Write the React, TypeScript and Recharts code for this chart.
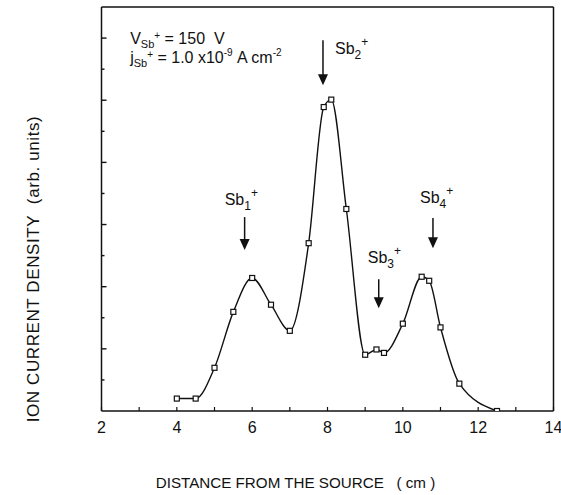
import React from 'react';
import { LineChart, Line, XAxis, YAxis, ReferenceLine, ReferenceDot } from 'recharts';

// measured ion current density along the beam path
const distance = [4, 4.5, 5, 5.5, 6, 6.5, 7, 7.5, 7.9, 8.1, 8.5, 9, 9.3, 9.5, 10, 10.5, 10.7, 11, 11.5, 12.5];
const current = [0.4, 0.4, 1.39, 3.19, 4.28, 3.42, 2.58, 5.4, 9.78, 10.02, 6.5, 1.81, 1.98, 1.87, 2.81, 4.32, 4.19, 2.69, 0.88, 0.0];

const xTicks = [2, 3, 4, 5, 6, 7, 8, 9, 10, 11, 12, 13, 14];
const yTicks = [1, 2, 3, 4, 5, 6, 7, 8, 9, 10, 11, 12];

// cluster peaks: arrow x position and its top/bottom in data units
const clusterSize = ['1', '2', '3', '4'];
const arrowX = [5.8, 7.88, 9.36, 10.8];
const arrowTop = [6.24, 11.93, 4.24, 6.21];
const arrowBottom = [5.18, 10.48, 3.31, 5.24];

const FONT = '"Liberation Sans", Arial, Helvetica, sans-serif';
const INK = '#111';

const data = distance.map((d, i) => ({ distance: d, current: current[i] }));

// text offsets of each cluster label relative to the top of its arrow
const labelOffset = [
  { dx: -20, dy: -12 },
  { dx: 12, dy: 14 },
  { dx: -11, dy: -16 },
  { dx: -13, dy: -15 },
];

const SquareDot = (props: any) => {
  const { cx, cy, index } = props;
  if (cx == null || cy == null) return <g key={index} />;
  return (
    <rect
      key={index}
      x={cx - 2.5}
      y={cy - 2.5}
      width={5}
      height={5}
      fill="#fff"
      stroke={INK}
      strokeWidth={1.2}
    />
  );
};

// bottom axis tick: short inward mark, number below the frame on even values
const XTick = (props: any) => {
  const { x, y, payload } = props;
  const v = payload.value as number;
  return (
    <g>
      <line x1={x} y1={y} x2={x} y2={y - 4} stroke={INK} strokeWidth={1.2} />
      {v % 2 === 0 && (
        <text x={x} y={y + 22} textAnchor="middle" fontFamily={FONT} fontSize={16} fill={INK}>
          {v}
        </text>
      )}
    </g>
  );
};

// left axis tick: long marks on even values, short on odd
const YTick = (props: any) => {
  const { x, y, payload } = props;
  const len = (payload.value as number) % 2 === 0 ? 5 : 3;
  return <line x1={x} y1={y} x2={x + len} y2={y} stroke={INK} strokeWidth={1.4} />;
};

const makeArrow = (i: number) => (props: any) => {
  const { x1, y1, y2 } = props;
  const top = Math.min(y1, y2);
  const bottom = Math.max(y1, y2);
  const head = 11;
  const off = labelOffset[i];
  return (
    <g>
      <line x1={x1} y1={top} x2={x1} y2={bottom - head + 1} stroke={INK} strokeWidth={1.5} />
      <polygon
        points={`${x1 - 5},${bottom - head} ${x1 + 5},${bottom - head} ${x1},${bottom}`}
        fill={INK}
      />
      <text x={x1 + off.dx} y={top + off.dy} fontFamily={FONT} fontSize={16} fill={INK}>
        Sb
        <tspan fontSize={12} dy={5}>{clusterSize[i]}</tspan>
        <tspan fontSize={12} dy={-13}>+</tspan>
      </text>
    </g>
  );
};

const BeamConditions = (props: any) => {
  const { cx, cy } = props;
  return (
    <g fontFamily={FONT} fill={INK}>
      <text x={cx} y={cy + 1} fontSize={16}>
        V
        <tspan fontSize={11} dy={4}>Sb</tspan>
        <tspan fontSize={10} dy={-9}>+</tspan>
        <tspan fontSize={16} dy={5}>{'\u00a0= 150\u00a0\u00a0V'}</tspan>
      </text>
      <text x={cx} y={cy + 20} fontSize={16}>
        j
        <tspan fontSize={11} dy={4}>Sb</tspan>
        <tspan fontSize={10} dy={-9}>+</tspan>
        <tspan fontSize={16} dy={5}>{'\u00a0= 1.0 x10'}</tspan>
        <tspan fontSize={10} dy={-7}>-9</tspan>
        <tspan fontSize={16} dy={7}>{'\u00a0A cm'}</tspan>
        <tspan fontSize={10} dy={-7}>-2</tspan>
      </text>
    </g>
  );
};

const App: React.FC = () => {
  return (
    <div style={{ position: 'absolute', left: 0, top: 0, background: '#fff' }}>
      <LineChart
        width={561}
        height={495}
        data={data}
        margin={{ top: 7, right: 7.5, left: 101.5, bottom: 84 }}
      >
        <XAxis
          dataKey="distance"
          type="number"
          domain={[2, 14]}
          ticks={xTicks}
          allowDataOverflow
          mirror
          height={30}
          stroke={INK}
          strokeWidth={1.5}
          tickLine={false}
          tickSize={0}
          tickMargin={0}
          tick={XTick}
          interval={0}
          label={{
            value: 'DISTANCE FROM THE SOURCE\u00a0\u00a0\u00a0( cm )',
            position: 'insideBottom',
            offset: -77,
            dx: -32,
            fontSize: 15.2,
            fill: INK,
            fontFamily: FONT,
          }}
        />
        <XAxis
          xAxisId="top"
          orientation="top"
          type="number"
          domain={[2, 14]}
          mirror
          height={30}
          tick={false}
          tickLine={false}
          stroke={INK}
          strokeWidth={1.5}
        />
        <YAxis
          type="number"
          domain={[0, 13]}
          ticks={yTicks}
          allowDataOverflow
          mirror
          width={60}
          stroke={INK}
          strokeWidth={1.5}
          tickLine={false}
          tickSize={0}
          tickMargin={0}
          tick={YTick}
          interval={0}
          label={{
            value: 'ION CURRENT DENSITY\u00a0\u00a0(arb. units)',
            angle: -90,
            position: 'center',
            dx: -98.5,
            dy: 60,
            fontSize: 17,
            letterSpacing: 0.6,
            fill: INK,
            fontFamily: FONT,
          }}
        />
        <YAxis
          yAxisId="right"
          orientation="right"
          type="number"
          domain={[0, 13]}
          mirror
          width={60}
          tick={false}
          tickLine={false}
          stroke={INK}
          strokeWidth={1.5}
        />
        <Line
          type="monotone"
          dataKey="current"
          stroke={INK}
          strokeWidth={1.4}
          dot={SquareDot}
          activeDot={false}
          isAnimationActive={false}
        />
        {arrowX.map((x, i) => (
          <ReferenceLine
            key={clusterSize[i]}
            segment={[
              { x, y: arrowTop[i] },
              { x, y: arrowBottom[i] },
            ]}
            shape={makeArrow(i)}
          />
        ))}
        <ReferenceDot x={2.76} y={11.83} r={0} shape={BeamConditions} />
      </LineChart>
    </div>
  );
};

export default App;
